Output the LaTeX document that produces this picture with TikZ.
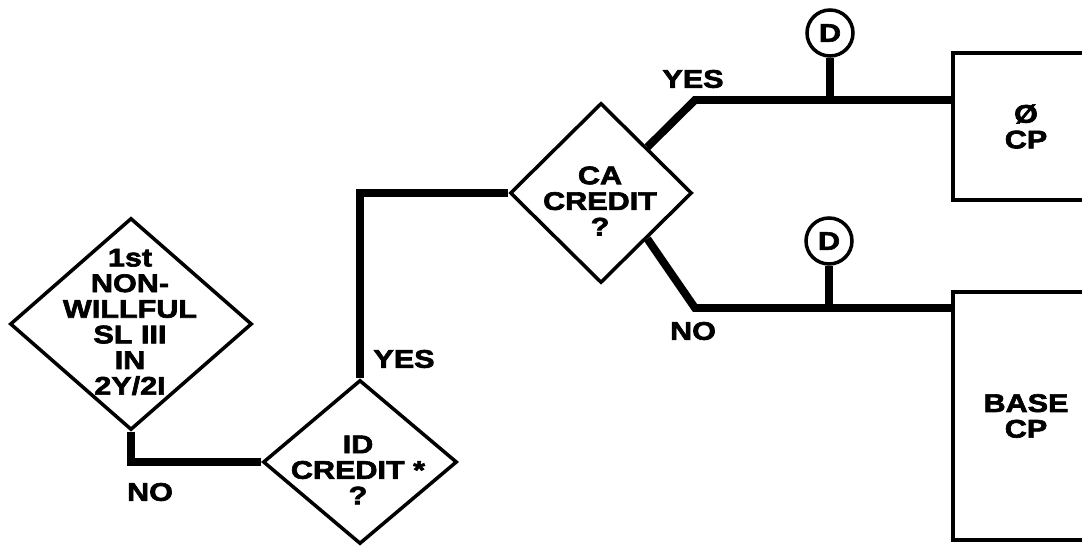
\documentclass[tikz,border=0pt]{standalone}
\usepackage{fontspec}
\setmainfont{Liberation Sans}
\newfontfamily\heavyfont{Liberation Sans}[BoldFeatures={FakeBold=2.5, FakeStretch=1.2}]
\usetikzlibrary{shapes.geometric, calc}
\tikzset{
  decision/.style={diamond, draw=black, line width=2pt, inner sep=0pt, aspect=1},
  dtext/.style={align=center, inner sep=0pt,
    font=\heavyfont\bfseries\fontsize{14.5}{14.6}\selectfont},
  outcome/.style={rectangle, draw=black, line width=2pt, minimum width=2.92cm,
    align=center, font=\heavyfont\bfseries\fontsize{14.5}{14.6}\selectfont},
  dmark/.style={circle, draw=black, line width=2pt, minimum size=0.92cm,
    inner sep=0pt, font=\heavyfont\bfseries\fontsize{14.5}{14.6}\selectfont},
  branch/.style={inner sep=0pt, font=\heavyfont\bfseries\fontsize{14.5}{14.6}\selectfont},
  conn/.style={line width=4.5pt, color=black}
}

\begin{document}
\begin{tikzpicture}[x=0.02cm, y=-0.02cm]
  \clip (0,0) rectangle (1082,550);

  % decisions
  \node[decision, minimum width=4.84cm, minimum height=4.24cm] (sl) at (131,324) {};
  \node[dtext] (sltxt) at (130,322) {1st\\NON-\\WILLFUL\\SL III\\IN\\2Y/2I};
  \node[decision, minimum width=3.88cm, minimum height=3.28cm] (id) at (360,462) {};
  \node[dtext] (idtxt) at (358,470) {ID\\CREDIT *\\?};
  \node[decision, minimum width=3.64cm, minimum height=3.6cm] (ca) at (601,193) {};
  \node[dtext] (catxt) at (600,201) {CA\\CREDIT\\?};

  % outcomes
  \node[outcome, minimum height=2.94cm] (zero) at (1026,126.5) {Ø\\CP};
  \node[outcome, minimum height=4.96cm] (base) at (1026,416) {BASE\\CP};

  % bends of the two branches
  \coordinate (yk) at (695,100);
  \coordinate (nk) at (695,308);

  % connectors
  \draw[conn] (sl.south) |- (id.west);
  \draw[conn] (id.north) |- (ca.west);
  \draw[conn] ($(ca.north)!0.5!(ca.east)$) -- (yk) -- (yk -| zero.west);
  \draw[conn] ($(ca.south)!0.5!(ca.east)$) -- (nk) -- (nk -| base.west);

  % D markers
  \node[dmark] (d1) at (830,33) {D};
  \node[dmark] (d2) at (829,241) {D};
  \draw[conn] (d1.south) -- (d1.south |- yk);
  \draw[conn] (d2.south) -- (d2.south |- nk);

  % branch labels
  \node[branch] (nol) at (150,492) {NO};
  \node[branch] (yesl) at (404,359) {YES};
  \node[branch] (yesr) at (693,79) {YES};
  \node[branch] (nor) at (693,331) {NO};
\end{tikzpicture}
\end{document}
